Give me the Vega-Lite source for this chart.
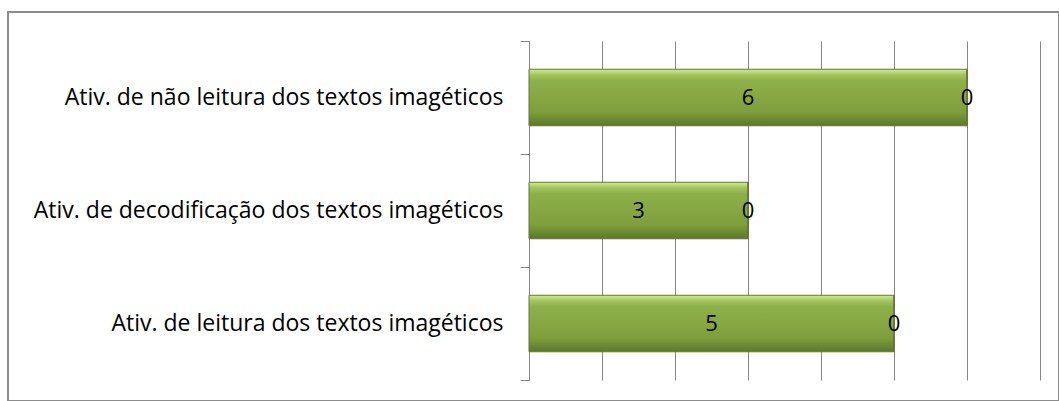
{
  "$schema": "https://vega.github.io/schema/vega-lite/v6.json",
  "autosize": {"type": "none"},
  "padding": {"left": 8, "top": 12, "right": 0, "bottom": 0},
  "width": 1051,
  "height": 389,
  "background": "white",
  "config": {
    "view": {"stroke": "#8c8c8c", "strokeWidth": 2},
    "font": "Open Sans"
  },
  "data": {
    "values": [
      {"cat": "Ativ. de não leitura dos textos imagéticos", "serie": "1", "v": 6},
      {"cat": "Ativ. de não leitura dos textos imagéticos", "serie": "2", "v": 0},
      {"cat": "Ativ. de decodificação dos textos imagéticos", "serie": "1", "v": 3},
      {"cat": "Ativ. de decodificação dos textos imagéticos", "serie": "2", "v": 0},
      {"cat": "Ativ. de leitura dos textos imagéticos", "serie": "1", "v": 5},
      {"cat": "Ativ. de leitura dos textos imagéticos", "serie": "2", "v": 0}
    ]
  },
  "encoding": {
    "y": {
      "field": "cat",
      "type": "nominal",
      "sort": null,
      "title": null,
      "scale": {"range": [29, 368], "paddingInner": 0, "paddingOuter": 0},
      "axis": {
        "offset": -521,
        "tickBand": "extent",
        "tickSize": 9,
        "tickColor": "#868686",
        "domainColor": "#868686",
        "labelPadding": 17,
        "labelFontSize": 23,
        "labelColor": "#000000",
        "labelFont": "Open Sans",
        "labelLimit": 700,
        "grid": false
      }
    },
    "x": {
      "field": "v",
      "type": "quantitative",
      "stack": "zero",
      "title": null,
      "scale": {"domain": [0, 7], "range": [521, 1032], "nice": false},
      "axis": {
        "orient": "top",
        "labels": false,
        "ticks": false,
        "domain": false,
        "grid": true,
        "gridColor": "#868686",
        "gridOpacity": 1,
        "values": [0, 1, 2, 3, 4, 5, 6, 7]
      }
    },
    "detail": {"field": "serie"},
    "order": {"field": "serie"}
  },
  "layer": [
    {
      "mark": {
        "type": "bar",
        "height": {"band": 0.5},
        "color": {
          "gradient": "linear",
          "x1": 0, "y1": 0, "x2": 0, "y2": 1,
          "stops": [
            {"offset": 0, "color": "#cdef8a"},
            {"offset": 0.1, "color": "#a4c45e"},
            {"offset": 0.2, "color": "#8eb04a"},
            {"offset": 0.75, "color": "#7f9f3c"},
            {"offset": 1, "color": "#5c7828"}
          ]
        },
        "stroke": "#5f7a2c",
        "strokeWidth": 1
      }
    },
    {
      "mark": {"type": "text", "fontSize": 22, "color": "#000000", "font": "Open Sans", "baseline": "middle"},
      "encoding": {
        "x": {
          "field": "v",
          "type": "quantitative",
          "stack": "zero",
          "bandPosition": 0.5,
          "axis": {
            "orient": "top",
            "labels": false,
            "ticks": false,
            "domain": false,
            "grid": true,
            "gridColor": "#868686",
            "gridOpacity": 1,
            "values": [0, 1, 2, 3, 4, 5, 6, 7]
          }
        },
        "text": {"field": "v", "type": "quantitative"}
      }
    }
  ]
}
